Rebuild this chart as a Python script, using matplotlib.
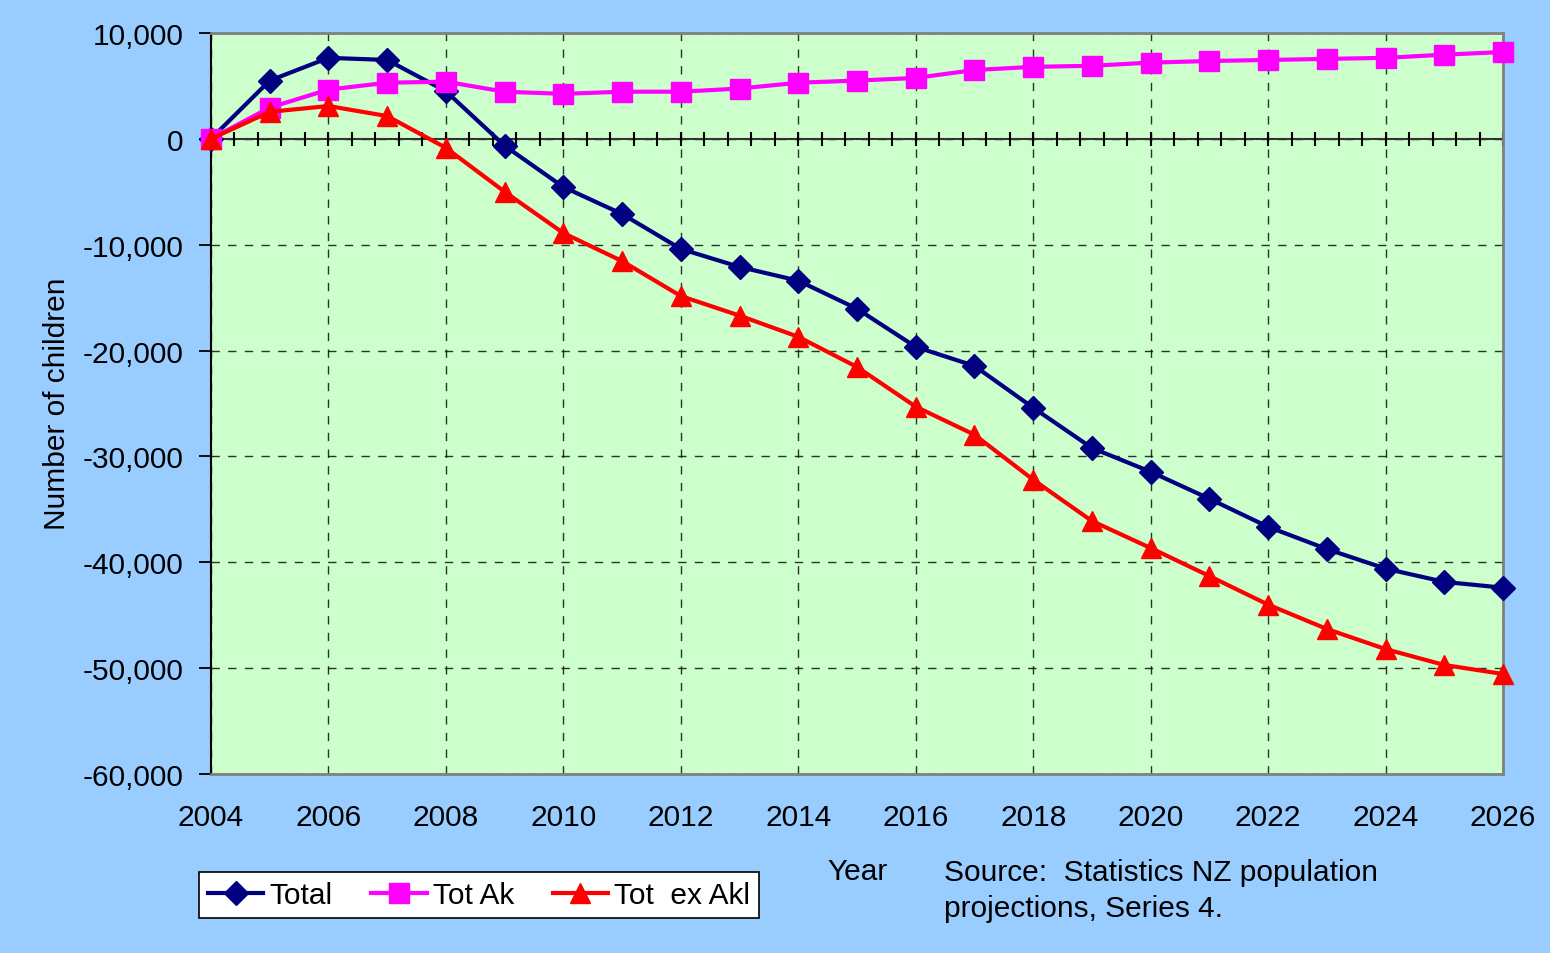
import numpy as np
import matplotlib
matplotlib.use("Agg")
import matplotlib.pyplot as plt
from matplotlib.ticker import FuncFormatter

plt.rcParams['font.family'] = ['Liberation Sans', 'DejaVu Sans']

years = list(range(2004, 2027))
total = [0, 5500, 7650, 7450, 4500, -650, -4550, -7100, -10400, -12100, -13400,
         -16050, -19650, -21450, -25400, -29200, -31450, -34000, -36650, -38750,
         -40600, -41850, -42400]
tot_ak = [0, 2950, 4650, 5300, 5400, 4450, 4250, 4450, 4450, 4750, 5300,
          5500, 5750, 6500, 6800, 6900, 7200, 7350, 7450, 7550, 7650, 7950, 8200]
tot_ex_akl = [0, 2550, 3100, 2150, -850, -5000, -8900, -11550, -14850, -16700,
              -18700, -21550, -25300, -27950, -32200, -36100, -38650, -41300,
              -44000, -46300, -48200, -49700, -50550]

bg = "#99CCFF"
plot_bg = "#CCFFCC"
fs = 21.5

fig = plt.figure(figsize=(15.5, 9.54), dpi=100, facecolor=bg)
ax = fig.add_axes([0.1361, 0.1876, 0.9697 - 0.1361, 0.9644 - 0.1876])
ax.set_facecolor(plot_bg)

# grid
ax.set_xlim(2004, 2026)
ax.set_ylim(-60000, 10000)
ax.set_xticks(range(2004, 2027, 2))
ax.set_yticks(range(-60000, 10001, 10000))
ax.grid(True, color="black", linestyle=(0, (6, 6)), linewidth=1.0, alpha=0.8)
ax.set_axisbelow(True)

# zero line with its small ticks
minor_x = np.arange(2004, 2026.01, 0.4)
ax.axhline(0, color="#333333", linewidth=1.5, zorder=2)
ax.plot(minor_x, np.zeros(len(minor_x)), linestyle="none", marker="|",
        markersize=10, markeredgewidth=1.5, color="black", zorder=2, clip_on=False)

ax.plot(years, total, color="#000080", linewidth=3, marker="D", markersize=12.5,
        label="Total", zorder=3, clip_on=False)
ax.plot(years, tot_ak, color="#FF00FF", linewidth=3, marker="s", markersize=14,
        label="Tot Ak", zorder=4, clip_on=False)
ax.plot(years, tot_ex_akl, color="#FF0000", linewidth=3, marker="^", markersize=15,
        label="Tot  ex Akl", zorder=5, clip_on=False)

ax.yaxis.set_major_formatter(FuncFormatter(lambda v, _: "{:,.0f}".format(v)))
ax.tick_params(axis="y", direction="out", length=9, width=1.3, pad=11, labelsize=fs)
ax.tick_params(axis="x", length=0, pad=21, labelsize=fs)

for side in ["top", "right", "bottom"]:
    ax.spines[side].set_color("#808080")
    ax.spines[side].set_linewidth(2)
ax.spines["left"].set_color("black")
ax.spines["left"].set_linewidth(1.5)

fig.text(0.0368, 0.5765, "Number of children", rotation=90, ha="center",
         va="center", fontsize=fs)
fig.text(0.553, 0.086, "Year", ha="center", va="center", fontsize=fs)
fig.text(0.609, 0.0995, "Source:  Statistics NZ population\nprojections, Series 4.",
         ha="left", va="top", fontsize=fs, linespacing=1.38)

leg = fig.legend(loc="center", bbox_to_anchor=(479 / 1550, 1 - 896 / 954), ncol=3,
                 fontsize=fs, frameon=True, fancybox=False, framealpha=1,
                 edgecolor="black", handlelength=1.85, handletextpad=0.2,
                 columnspacing=1.3, borderpad=0.3, borderaxespad=0)
leg.get_frame().set_linewidth(1.2)

fig.savefig("out.png", dpi=100, facecolor=bg)
